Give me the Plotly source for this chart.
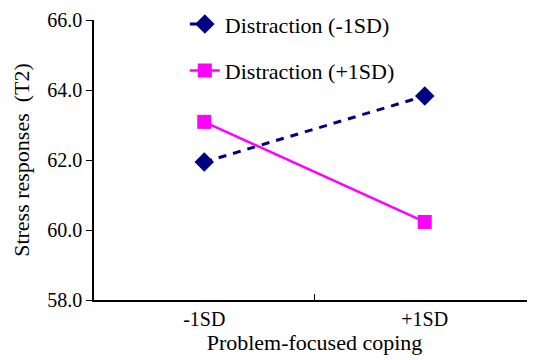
import plotly.graph_objects as go

categories = ["-1SD", "+1SD"]
low_distraction = [61.94, 63.83]
high_distraction = [63.09, 60.23]
series_names = ["Distraction (-1SD)", "Distraction (+1SD)"]
y_ticks = [58.0, 60.0, 62.0, 64.0, 66.0]

FONT = "Liberation Serif"

fig = go.Figure()
fig.add_trace(go.Scatter(
    x=categories, y=low_distraction, name=series_names[0], mode="lines+markers",
    legendgroup="a",
    line=dict(color="#000080", width=3, dash="8px,7px"),
    marker=dict(symbol="diamond", size=15, color="#000080"),
))
fig.add_trace(go.Scatter(
    x=categories, y=high_distraction, name=series_names[1], mode="lines+markers",
    legendgroup="b",
    line=dict(color="#FF00FF", width=2.5),
    marker=dict(symbol="square", size=14, color="#FF00FF"),
))

fig.update_layout(
    width=527, height=352,
    margin=dict(l=86, r=0, t=12, b=60, autoexpand=False),
    paper_bgcolor="white", plot_bgcolor="white",
    font=dict(family=FONT, size=20, color="black"),
    legend=dict(
        x=0.206, y=1.06, xanchor="left", yanchor="top",
        font=dict(family=FONT, size=22, color="black"),
        tracegroupgap=15, traceorder="grouped",
        bgcolor="rgba(0,0,0,0)",
    ),
    xaxis=dict(
        type="category", categoryorder="array", categoryarray=categories,
        range=[-0.5, 1.5],
        showline=True, linecolor="black", linewidth=1.5,
        ticks="inside", tickson="boundaries", ticklen=6, tickcolor="black",
        showgrid=False, zeroline=False, automargin=False,
        tickfont=dict(family=FONT, size=20),
        title=dict(text="Problem-focused coping", font=dict(family=FONT, size=22), standoff=4),
    ),
    yaxis=dict(
        range=[58, 66], tickvals=y_ticks, tickformat=".1f",
        showline=True, linecolor="black", linewidth=1.5,
        ticks="outside", ticklen=6, tickcolor="black",
        showgrid=False, zeroline=False, automargin=False,
        tickfont=dict(family=FONT, size=20),
        title=dict(text="Stress responses\u00a0\u00a0(T2)", font=dict(family=FONT, size=22), standoff=12),
    ),
)

fig.write_html("out.html")
